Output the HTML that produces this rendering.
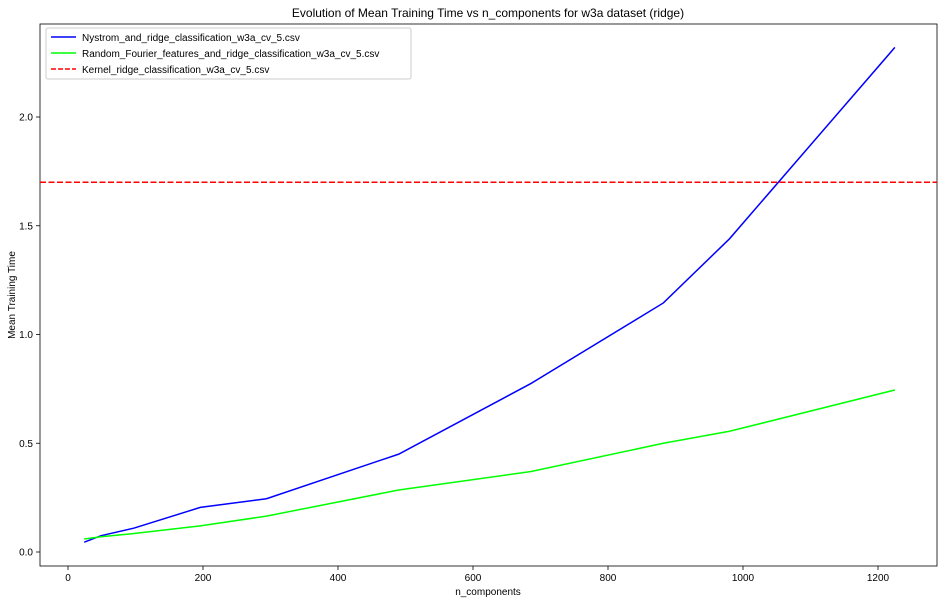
<!DOCTYPE html>
<html><head><meta charset="utf-8"><style>
body{margin:0;background:#fff;font-family:"Liberation Sans","DejaVu Sans",sans-serif}
svg text{font-family:"Liberation Sans","DejaVu Sans",sans-serif;font-size:10px;fill:#000}
</style></head><body>
<svg id="chart" width="944" height="605" xmlns="http://www.w3.org/2000/svg">
<text x="488" y="17" text-anchor="middle" style="font-size:12px">Evolution of Mean Training Time vs n_components for w3a dataset (ridge)</text>
<g id="grid"></g>
<rect x="40" y="24" width="897" height="542" fill="none" stroke="#000" stroke-width="0.8"/>
<text x="488" y="595" text-anchor="middle">n_components</text>
<text transform="translate(15,295) rotate(-90)" text-anchor="middle">Mean Training Time</text>
<g>
<rect x="46" y="28" width="365" height="51" fill="#fff" stroke="#ccc" rx="2"/>
<line x1="51" y1="37" x2="76" y2="37" stroke="#0000ff" stroke-width="1.5"/>
<text x="82" y="41">Nystrom_and_ridge_classification_w3a_cv_5.csv</text>
<line x1="51" y1="53" x2="76" y2="53" stroke="#00ff00" stroke-width="1.5"/>
<text x="82" y="57">Random_Fourier_features_and_ridge_classification_w3a_cv_5.csv</text>
<line x1="51" y1="69" x2="76" y2="69" stroke="#ff0000" stroke-width="1.5" stroke-dasharray="5,2"/>
<text x="82" y="73">Kernel_ridge_classification_w3a_cv_5.csv</text>
</g>
</svg>
<script>
const nComponents=[24,49,98,196,294,490,686,882,980,1225];
const nystromTimes=[0.045,0.075,0.11,0.205,0.245,0.45,0.775,1.145,1.44,2.32];
const rffTimes=[0.06,0.07,0.085,0.12,0.165,0.285,0.37,0.5,0.555,0.745];
const kernelTime=1.70;
const xTicks=[0,200,400,600,800,1000,1200];
const yTicks=[0.0,0.5,1.0,1.5,2.0];
const NS="http://www.w3.org/2000/svg";
const svg=document.getElementById('chart');
const L=40,R=937,T=24,B=566;
function sx(v){return 68+v*0.675;}
function sy(v){return 552-v*217.5;}
function el(t,a){const e=document.createElementNS(NS,t);for(const k in a)e.setAttribute(k,a[k]);svg.appendChild(e);return e;}
xTicks.forEach(v=>{
  const l=el('line',{x1:sx(v),x2:sx(v),y1:B,y2:B+4,stroke:'#000','stroke-width':0.8});
  
  
  const t=el('text',{x:sx(v),y:B+15,'text-anchor':'middle'});t.textContent=v;
  
  
});
yTicks.forEach(v=>{
  const l=el('line',{x1:L-4,x2:L,y1:sy(v),y2:sy(v),stroke:'#000','stroke-width':0.8});
  
  
  const t=el('text',{x:L-7,y:sy(v)+3.5,'text-anchor':'end'});t.textContent=v.toFixed(1);
  
  
});
function line(ys,color,name){
  const p=el('polyline',{points:nComponents.map((x,i)=>sx(x)+','+sy(ys[i])).join(' '),fill:'none',stroke:color,'stroke-width':1.5});
  
  
}
line(nystromTimes,'#0000ff','nystrom-line');
line(rffTimes,'#00ff00','rff-line');
const k=el('line',{x1:L,x2:R,y1:sy(kernelTime),y2:sy(kernelTime),stroke:'#ff0000','stroke-width':1.5,'stroke-dasharray':'6,2.5'});


</script>
</body></html>
